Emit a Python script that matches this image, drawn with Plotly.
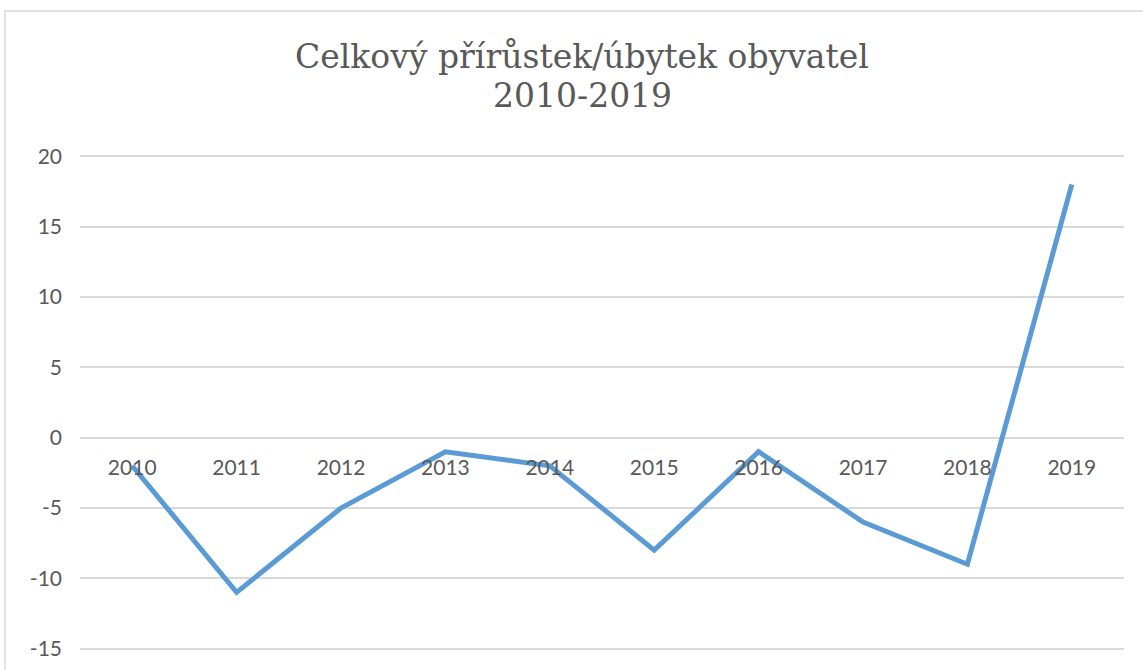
import plotly.graph_objects as go

years = ["2010", "2011", "2012", "2013", "2014", "2015", "2016", "2017", "2018", "2019"]
values = [-2, -11, -5, -1, -2, -8, -1, -6, -9, 18]
y_ticks = [-15, -10, -5, 0, 5, 10, 15, 20]
y_tick_labels = ["-15", "-10", "-5", "0", "5", "10", "15", "20"]
title_line1 = "Celkový přírůstek/úbytek obyvatel"
title_line2 = "2010-2019"

W, H = 1143, 670
ML, MR, MT, MB = 80, 19, 155, 20
ymin, ymax = -15.1, 20.1
plot_h = H - MT - MB
plot_w = W - ML - MR

def py(px):
    return (H - MB - px) / plot_h

def pxx(px):
    return (px - ML) / plot_w

grey = "#595959"
grid = "#d9d9d9"

fig = go.Figure()
fig.add_trace(go.Scatter(
    x=years, y=values, mode="lines",
    line=dict(color="#5b9bd5", width=5, shape="linear"),
    hoverinfo="x+y", showlegend=False,
))

fig.update_layout(
    width=W, height=H,
    margin=dict(l=ML, r=MR, t=MT, b=MB, pad=0),
    paper_bgcolor="white", plot_bgcolor="white",
    showlegend=False,
    xaxis=dict(
        type="category", range=[-0.5, 9.5], automargin=False,
        showgrid=False, zeroline=False, showline=False,
        ticks="", anchor="free", position=(0 - ymin) / (ymax - ymin),
        ticklabelstandoff=15,
        tickfont=dict(family="Lato, Open Sans, sans-serif", size=21, color=grey),
    ),
    yaxis=dict(
        range=[ymin, ymax], tickvals=y_ticks, ticktext=y_tick_labels, automargin=False,
        showgrid=True, gridcolor=grid, gridwidth=1.5,
        zeroline=True, zerolinecolor=grid, zerolinewidth=1.5,
        showline=False, ticks="",
        ticklabelstandoff=17,
        tickfont=dict(family="Lato, Open Sans, sans-serif", size=21, color=grey),
    ),
    shapes=[dict(
        type="rect", xref="paper", yref="paper",
        x0=pxx(5), x1=pxx(W + 20), y0=py(H + 20), y1=py(11),
        line=dict(color="#d9d9d9", width=1.5), fillcolor="rgba(0,0,0,0)", layer="below",
    )],
    annotations=[
        dict(text=title_line1, xref="paper", yref="paper", x=pxx(582), y=py(56),
             xanchor="center", yanchor="middle", showarrow=False,
             font=dict(family="DejaVu Serif, serif", size=33, color=grey)),
        dict(text=title_line2, xref="paper", yref="paper", x=pxx(582), y=py(95),
             xanchor="center", yanchor="middle", showarrow=False,
             font=dict(family="DejaVu Serif, serif", size=33, color=grey)),
    ],
)

fig.write_html(
    "out.html",
    config={"displayModeBar": False},
    post_script="document.body.style.margin='0';document.body.style.overflow='hidden';",
)
